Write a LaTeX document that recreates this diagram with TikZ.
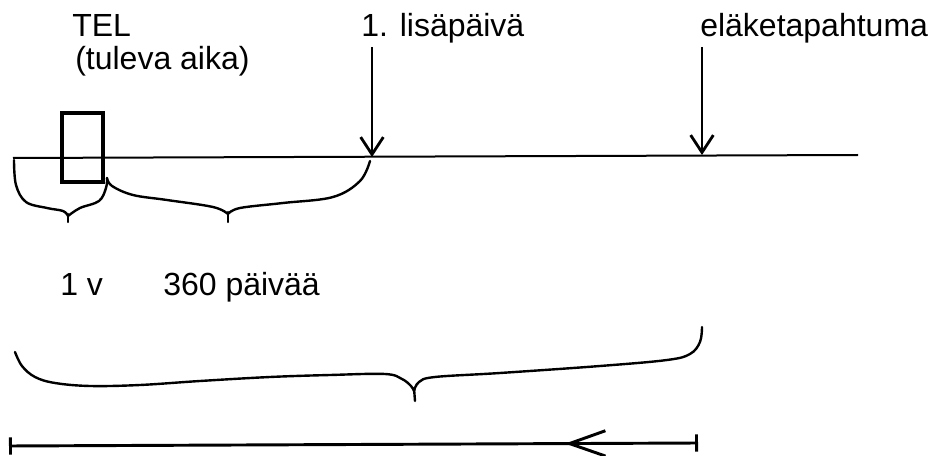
\documentclass[tikz,border=0pt]{standalone}
\usepackage{fontspec}
\setmainfont{Liberation Sans}
\usetikzlibrary{arrows.meta}
\usetikzlibrary{decorations.markings}

\tikzset{
  hand/.style={line width=1.8pt, line cap=round, line join=round},
  txt/.style={anchor=base west, inner sep=0pt, font=\fontsize{24}{28}\selectfont},
  downarrow/.style={line width=2.1pt, -{Straight Barb[length=13pt,width=17pt]}},
}

\begin{document}
\begin{tikzpicture}[x=0.75pt, y=-0.75pt]
  \useasboundingbox (0,0) rectangle (933,456);

  \node[txt] (tel)    at (72,37)   {TEL};
  \node[txt] (tuleva) at (75,70)   {(tuleva aika)};
  \node[txt] (lisa)   at (361,37)  {1. lisäpäivä};
  \node[txt] (elake)  at (700,37)  {eläketapahtuma};
  \node[txt] (yksi)   at (60,296)  {1 v};
  \node[txt] (paivat) at (163,296) {360 päivää};

  % time line and the two events
  \coordinate (L0) at (13,158);
  \coordinate (L1) at (858,155);
  \coordinate (lisatop) at (372,47);
  \coordinate (lisatip) at (372,157);
  \coordinate (elaketop) at (702,47);
  \coordinate (elaketip) at (702,155);
  \draw[line width=1.5pt] (L0) -- (L1);
  \draw[downarrow] (lisatop) -- (lisatip);
  \draw[downarrow] (elaketop) -- (elaketip);

  \draw[line width=2.6pt] (62,113) rectangle (103,182);

  % braces under the line
  \draw[hand] plot[smooth, tension=0.6] coordinates
    {(14,160) (16,185) (26,202) (47,208) (63,211) (68,216)};
  \draw[hand] (68,214) -- (68,222);
  \draw[hand] plot[smooth, tension=0.6] coordinates
    {(68,216) (80,208) (99,201) (106,188) (107,178)};

  \draw[hand] plot[smooth, tension=0.6] coordinates
    {(107,178) (112,186) (133,195) (167,200) (213,207) (228,214)};
  \draw[hand] (228,212) -- (228,222);
  \draw[hand] plot[smooth, tension=0.6] coordinates
    {(228,214) (240,208) (283,203) (333,197) (360,181) (370,161)};

  % big brace
  \draw[hand] plot[smooth, tension=0.6] coordinates
    {(15,352) (22,366) (35,377) (55,383) (90,386) (140,385) (200,381)
     (270,377) (330,375) (385,374) (402,379) (411,386) (414,391)};
  \draw[hand] (414,388) -- (415,401);
  \draw[hand] plot[smooth, tension=0.6] coordinates
    {(414,391) (419,382) (435,377) (500,373) (600,366) (667,360)
     (690,354) (700,342) (702,327)};

  % bottom line
  \coordinate (B0) at (9,446);
  \coordinate (B1) at (698,443);
  \draw[line width=2.2pt, {Bar[width=13pt]}-{Bar[width=13pt]},
    postaction={decorate},
    decoration={markings, mark=at position 0.193 with
      {\arrow{Straight Barb[length=27pt,width=19pt]}}}] (B1) -- (B0);
\end{tikzpicture}
\end{document}
